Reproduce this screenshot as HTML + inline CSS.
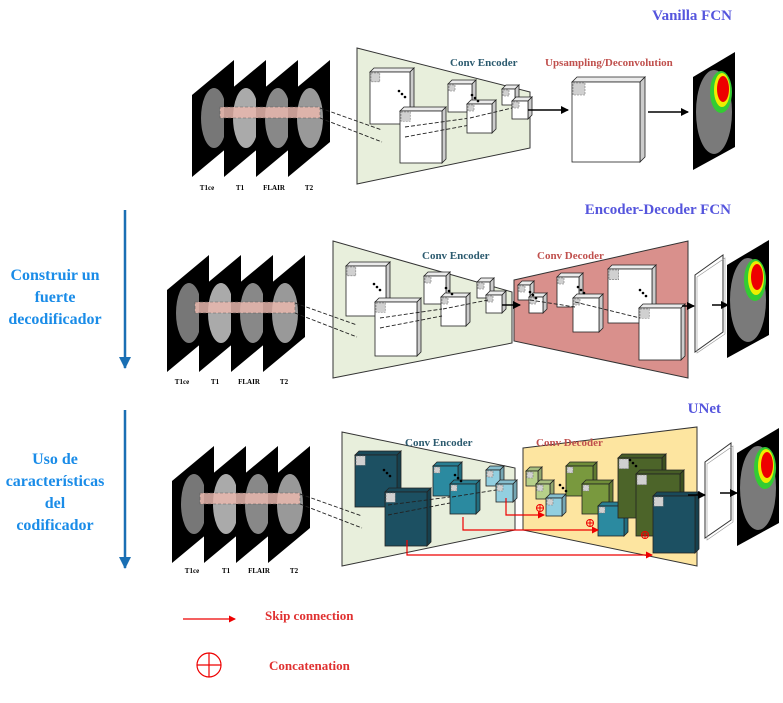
<!DOCTYPE html>
<html><head><meta charset="utf-8"><style>
body{margin:0;background:#fff;}
svg{display:block;font-family:"Liberation Serif",serif;font-weight:bold;}
</style></head><body>
<svg id="s" width="783" height="703" viewBox="0 0 783 703" xmlns="http://www.w3.org/2000/svg">
<defs>
<marker id="ab" markerWidth="8" markerHeight="8" refX="7" refY="4" orient="auto" markerUnits="userSpaceOnUse"><path d="M0,0L8,4L0,8z" fill="#000"/></marker>
<marker id="ar" markerWidth="7" markerHeight="7" refX="6" refY="3.5" orient="auto" markerUnits="userSpaceOnUse"><path d="M0,0L7,3.5L0,7z" fill="#e00"/></marker>
<marker id="abl" markerWidth="12" markerHeight="12" refX="11" refY="6" orient="auto" markerUnits="userSpaceOnUse"><path d="M0,0L12,6L0,12z" fill="#1a6fb4"/></marker>
</defs>
<polygon points="357,48 530,92 530,148 357,184" fill="#e8efdc" stroke="#333"/>
<polygon points="333,241 512,292 512,343 333,378" fill="#e8efdc" stroke="#333"/>
<polygon points="514,280 688,241 688,378 514,341" fill="#d9908c" stroke="#333"/>
<polygon points="342,432 515,468 515,530 342,566" fill="#e8efdc" stroke="#333"/>
<polygon points="523,448 697,427 697,566 523,530" fill="#fde5a0" stroke="#333"/>
<g id="shapes"></g>
<line x1="528" y1="110" x2="568" y2="110" stroke="#000" stroke-width="1.5" marker-end="url(#ab)"/>
<line x1="648" y1="112" x2="688" y2="112" stroke="#000" stroke-width="1.5" marker-end="url(#ab)"/>
<line x1="502" y1="305" x2="520" y2="305" stroke="#000" stroke-width="1.5" marker-end="url(#ab)"/>
<line x1="682" y1="306" x2="694" y2="306" stroke="#000" stroke-width="1.5" marker-end="url(#ab)"/>
<line x1="712" y1="305" x2="728" y2="305" stroke="#000" stroke-width="1.5" marker-end="url(#ab)"/>
<line x1="688" y1="495" x2="705" y2="495" stroke="#000" stroke-width="1.5" marker-end="url(#ab)"/>
<line x1="720" y1="493" x2="737" y2="493" stroke="#000" stroke-width="1.5" marker-end="url(#ab)"/>
<g stroke="#e00" stroke-width="1.2" fill="none">
<polyline points="506,498 506,515 544,515" marker-end="url(#ar)"/>
<polyline points="463,517 463,530 598,530" marker-end="url(#ar)"/>
<polyline points="407,540 407,555 652,555" marker-end="url(#ar)"/>
</g>
<g fill="none" stroke="#e00" stroke-width="1">
<circle cx="540" cy="508" r="3.5"/><path d="M536.5,508h7M540,504.5v7"/>
<circle cx="590" cy="523" r="3.5"/><path d="M586.5,523h7M590,519.5v7"/>
<circle cx="645" cy="535" r="3.5"/><path d="M641.5,535h7M645,531.5v7"/>
</g>
<line x1="125" y1="210" x2="125" y2="368" stroke="#1a6fb4" stroke-width="2.5" marker-end="url(#abl)"/>
<line x1="125" y1="410" x2="125" y2="568" stroke="#1a6fb4" stroke-width="2.5" marker-end="url(#abl)"/>
<g font-size="15" fill="#5555dd" text-anchor="end">
<text x="732" y="20">Vanilla FCN</text>
<text x="731" y="214">Encoder-Decoder FCN</text>
<text x="721" y="413">UNet</text>
</g>
<g font-size="16" fill="#1a8ce8" text-anchor="middle">
<text x="55" y="280">Construir un</text>
<text x="55" y="302">fuerte</text>
<text x="55" y="324">decodificador</text>
<text x="55" y="464">Uso de</text>
<text x="55" y="486">características</text>
<text x="55" y="508">del</text>
<text x="55" y="530">codificador</text>
</g>
<g font-size="11" fill="#2b5a6e">
<text x="450" y="66">Conv Encoder</text>
<text x="422" y="259">Conv Encoder</text>
<text x="405" y="446">Conv Encoder</text>
</g>
<g font-size="11" fill="#c0504d">
<text x="545" y="66">Upsampling/Deconvolution</text>
<text x="537" y="259">Conv Decoder</text>
<text x="536" y="446">Conv Decoder</text>
</g>
<g font-size="7" fill="#000" text-anchor="middle">
<text x="207" y="190">T1ce</text><text x="240" y="190">T1</text><text x="274" y="190">FLAIR</text><text x="309" y="190">T2</text>
<text x="182" y="384">T1ce</text><text x="215" y="384">T1</text><text x="249" y="384">FLAIR</text><text x="284" y="384">T2</text>
<text x="192" y="573">T1ce</text><text x="226" y="573">T1</text><text x="259" y="573">FLAIR</text><text x="294" y="573">T2</text>
</g>
<line x1="183" y1="619" x2="235" y2="619" stroke="#e00" stroke-width="1.2" marker-end="url(#ar)"/>
<text x="265" y="620" font-size="13" fill="#e03030">Skip connection</text>
<circle cx="209" cy="665" r="12" fill="none" stroke="#e00" stroke-width="1.2"/>
<path d="M197,665h24M209,653v24" stroke="#e00" stroke-width="1.2"/>
<text x="269" y="670" font-size="13" fill="#e03030">Concatenation</text>
</svg>
<script>
var g=document.getElementById('shapes'),NS='http://www.w3.org/2000/svg';
function el(t,a){var e=document.createElementNS(NS,t);for(var k in a)e.setAttribute(k,a[k]);g.appendChild(e);return e;}
function shade(c,f){var n=parseInt(c.slice(1),16),r=n>>16,gg=(n>>8)&255,b=n&255;return 'rgb('+Math.round(r*f)+','+Math.round(gg*f)+','+Math.round(b*f)+')';}
function cube(x,y,w,h,c,d){d=d||4;c=c||'#ffffff';
el('polygon',{points:[x,y,x+d,y-d,x+w+d,y-d,x+w,y].join(','),fill:shade(c,0.92),stroke:'#222','stroke-width':0.8});
el('polygon',{points:[x+w,y,x+w+d,y-d,x+w+d,y+h-d,x+w,y+h].join(','),fill:shade(c,0.8),stroke:'#222','stroke-width':0.8});
el('rect',{x:x,y:y,width:w,height:h,fill:c,stroke:'#222','stroke-width':0.8});
var k=Math.max(6,Math.min(12,w*0.22));
el('rect',{x:x+1,y:y+1,width:k,height:k,fill:'#d0d0d0',stroke:'#777','stroke-width':0.6,'stroke-dasharray':'2,1'});}
function dots(x,y){for(var i=0;i<3;i++)el('circle',{cx:x+i*3,cy:y+i*3,r:1.3,fill:'#000'});}
function dash(pts){el('polyline',{points:pts.join(','),fill:'none',stroke:'#222','stroke-width':0.9,'stroke-dasharray':'4,2'});}
function mri(ox,oy){
for(var i=0;i<4;i++){var x=ox+32*i;
el('polygon',{points:[x,oy+35,x+42,oy,x+42,oy+82,x,oy+117].join(','),fill:'#000'});
el('ellipse',{cx:x+22,cy:oy+58,rx:13,ry:30,fill:['#777','#aaa','#888','#999'][i]});}
el('rect',{x:ox+28,y:oy+47,width:100,height:11,fill:'#e9b8ae',opacity:0.85,stroke:'#555','stroke-dasharray':'3,2','stroke-width':0.6});
dash([ox+128,oy+48,ox+190,oy+70]);dash([ox+128,oy+58,ox+190,oy+82]);}
function out(x,y){
el('polygon',{points:[x,y+25,x+42,y,x+42,y+95,x,y+118].join(','),fill:'#000'});
el('ellipse',{cx:x+21,cy:y+60,rx:18,ry:42,fill:'#7a7a7a'});
el('ellipse',{cx:x+28,cy:y+40,rx:11,ry:21,fill:'#3c3'});
el('ellipse',{cx:x+29,cy:y+38,rx:8,ry:17,fill:'#ee0'});
el('ellipse',{cx:x+30,cy:y+37,rx:6,ry:13,fill:'#e00'});}
mri(192,60);
cube(370,72,40,52);cube(400,111,42,52);dots(399,91);
dash([405,127,470,118]);dash([405,137,470,125]);
cube(448,84,24,28);cube(467,104,25,29);dots(472,95);
cube(502,89,13,16);cube(512,101,16,18);
dash([470,118,512,108]);
cube(572,82,68,80,'#ffffff',5);
out(693,52);
mri(167,255);
cube(346,266,40,50);cube(375,302,42,54);dots(374,284);
cube(424,276,22,28);cube(441,297,25,29);dots(446,288);
cube(477,282,13,16);cube(486,295,16,18);
dash([380,318,442,309]);dash([380,328,442,316]);dash([443,309,488,300]);
cube(518,285,12,15);cube(529,297,14,16);dots(530,292);
cube(557,277,22,30);cube(573,298,26,34);dots(578,287);
cube(608,269,44,54);cube(639,308,42,52);dots(640,290);
dash([530,300,575,307]);dash([575,302,640,318]);
el('polygon',{points:[695,275,723,255,723,332,695,352],fill:'#fff',stroke:'#333'});
el('polygon',{points:[697,277,725,258,725,334,697,353],fill:'none',stroke:'#999','stroke-width':0.6});
out(727,240);
mri(172,446);
var c1='#1c5062',c2='#2b8aa0',c3='#92cfe0',g1='#b7d08a',g2='#79993e',g3='#4c6429';
cube(355,455,42,52,c1);cube(385,492,42,54,c1);dots(384,470);
cube(433,466,25,30,c2);cube(450,484,26,30,c2);dots(455,475);
cube(486,470,14,16,c3);cube(496,484,17,18,c3);
dash([388,505,450,497]);dash([388,515,450,503]);dash([452,497,496,490]);
cube(526,471,12,15,g1);cube(536,484,14,15,g1);cube(546,498,16,18,c3);
cube(566,466,27,30,g2);cube(582,484,27,30,g2);cube(598,506,26,30,c2);
cube(618,458,44,60,g3);cube(636,474,44,62,g3);cube(653,496,42,57,c1);
dots(560,485);dots(630,460);
el('polygon',{points:[705,462,731,443,731,520,705,538],fill:'#fff',stroke:'#333'});
el('polygon',{points:[707,464,733,446,733,522,707,540],fill:'none',stroke:'#999','stroke-width':0.6});
out(737,428);
</script>
</body></html>
